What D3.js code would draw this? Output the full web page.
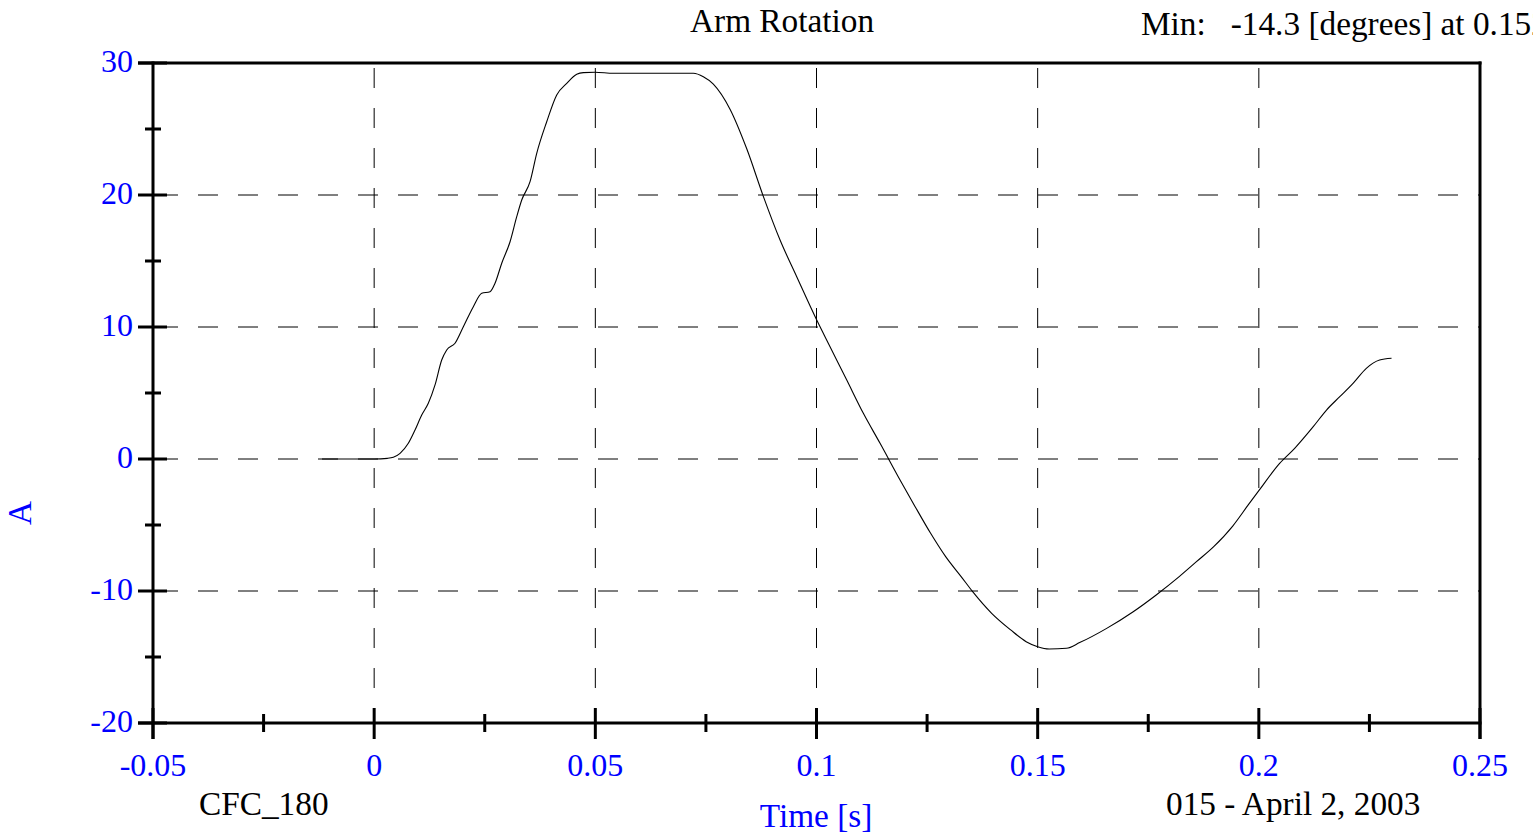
<!DOCTYPE html>
<html>
<head>
<meta charset="utf-8">
<script src="https://cdn.jsdelivr.net/npm/d3@7"></script>
<style>
html,body{margin:0;padding:0;background:#fff;overflow:hidden;}
svg{display:block;}
text{font-family:"Liberation Serif","Times New Roman",serif;}
</style>
</head>
<body>
<svg id="chart" width="1533" height="835"></svg>
<script>
// ---- data ----
const timeS = [-0.0118,-0.006,0.0,0.0030,0.00433,0.00585,0.00772,0.00924,0.01075,0.01224,0.01376,0.01527,0.0164,0.01828,0.02016,0.02242,0.02432,0.02619,0.02732,0.02884,0.03072,0.03223,0.03336,0.03524,0.03675,0.03901,0.04127,0.04354,0.0458,0.04729,0.04993,0.05407,0.065,0.07216,0.07442,0.07668,0.08045,0.08423,0.08798,0.09176,0.09553,0.10005,0.10306,0.10684,0.11059,0.11437,0.11889,0.1223,0.1258,0.1292,0.1327,0.1353,0.1396,0.1439,0.1474,0.15,0.1526,0.1565,0.1595,0.1656,0.1716,0.1768,0.1820,0.1859,0.1898,0.1941,0.1976,0.2,0.2047,0.2081,0.2123,0.2153,0.2183,0.2213,0.2243,0.2273,0.2300];
const armRotation = [0,0,0,0.05,0.13,0.43,1.19,2.20,3.33,4.22,5.61,7.50,8.26,8.77,10.02,11.54,12.55,12.67,13.31,14.83,16.46,18.36,19.62,21.01,23.16,25.55,27.58,28.46,29.14,29.27,29.30,29.22,29.22,29.22,28.96,28.40,26.50,23.50,19.90,16.59,13.81,10.53,8.51,5.98,3.46,1.19,-1.59,-3.61,-5.63,-7.40,-8.91,-10.05,-11.69,-12.95,-13.84,-14.22,-14.39,-14.34,-13.91,-12.83,-11.57,-10.30,-8.91,-7.78,-6.64,-5.08,-3.48,-2.40,-0.33,0.81,2.45,3.71,4.72,5.73,6.87,7.50,7.63];
const xMajorTicks = [-0.05,0,0.05,0.1,0.15,0.2,0.25];
const xTickLabels = ["-0.05","0","0.05","0.1","0.15","0.2","0.25"];
const xMinorTicks = [-0.025,0.025,0.075,0.125,0.175,0.225];
const yMajorTicks = [-20,-10,0,10,20,30];
const yTickLabels = ["-20","-10","0","10","20","30"];
const yMinorTicks = [-15,-5,5,15,25];
const xGrid = [0,0.05,0.1,0.15,0.2];
const yGrid = [-10,0,10,20];
const titleText = "Arm Rotation";
const minText = "Min:   -14.3 [degrees] at 0.152";
const xAxisTitle = "Time [s]";
const yAxisTitle = "A";
const leftNote = "CFC_180";
const rightNote = "015 - April 2, 2003";

// ---- layout ----
const L = 153, R = 1480, T = 63, B = 723;
const svg = d3.select("#chart");
const x = d3.scaleLinear().domain([-0.05,0.25]).range([L,R]);
const y = d3.scaleLinear().domain([-20,30]).range([B,T]);
const blue = "#0000ff";
const fs = 32, fs2 = 33.3;

// grid
const grid = svg.append("g").attr("stroke","#000").attr("stroke-width",1)
  .attr("stroke-dasharray","20,20").attr("stroke-dashoffset",35).attr("fill","none");
grid.selectAll("line.h").data(yGrid).join("line").attr("class","h")
  .attr("x1",L).attr("x2",R).attr("y1",d=>y(d)).attr("y2",d=>y(d));
grid.selectAll("line.v").data(xGrid).join("line").attr("class","v")
  .attr("x1",d=>x(d)).attr("x2",d=>x(d)).attr("y1",T).attr("y2",B);

// data line
const line = d3.line().x(d=>x(d[0])).y(d=>y(d[1])).curve(d3.curveMonotoneX);
svg.append("path").datum(timeS.map((t,i)=>[t,armRotation[i]]))
  .attr("d",line).attr("fill","none").attr("stroke","#000").attr("stroke-width",1.1);

// frame / axes
const ax = svg.append("g").attr("stroke","#000").attr("stroke-width",3).attr("fill","none");
ax.append("line").attr("x1",x(-0.05)).attr("x2",x(-0.05)).attr("y1",T-1.5).attr("y2",B+16);
ax.append("line").attr("x1",x(0.25)).attr("x2",x(0.25)).attr("y1",T-1.5).attr("y2",B+16);
ax.append("line").attr("x1",L-15).attr("x2",R+1.5).attr("y1",y(30)).attr("y2",y(30));
ax.append("line").attr("x1",L-15).attr("x2",R+1.5).attr("y1",y(-20)).attr("y2",y(-20));
// x ticks
ax.selectAll("line.xM").data(xMajorTicks).join("line").attr("class","xM")
  .attr("x1",d=>x(d)).attr("x2",d=>x(d)).attr("y1",B-15).attr("y2",B+16);
ax.selectAll("line.xm").data(xMinorTicks).join("line").attr("class","xm")
  .attr("x1",d=>x(d)).attr("x2",d=>x(d)).attr("y1",B-9).attr("y2",B+9);
// y ticks
ax.selectAll("line.yM").data(yMajorTicks).join("line").attr("class","yM")
  .attr("x1",L-15).attr("x2",L+14).attr("y1",d=>y(d)).attr("y2",d=>y(d));
ax.selectAll("line.ym").data(yMinorTicks).join("line").attr("class","ym")
  .attr("x1",L-8).attr("x2",L+8).attr("y1",d=>y(d)).attr("y2",d=>y(d));

// tick labels
svg.append("g").selectAll("text").data(xMajorTicks).join("text")
  .attr("x",d=>x(d)).attr("y",B+53).attr("text-anchor","middle")
  .attr("fill",blue).attr("font-size",fs).text((d,i)=>xTickLabels[i]);
svg.append("g").selectAll("text").data(yMajorTicks).join("text")
  .attr("x",L-20).attr("y",d=>y(d)+9).attr("text-anchor","end")
  .attr("fill",blue).attr("font-size",fs).text((d,i)=>yTickLabels[i]);

// titles
svg.append("text").attr("x",690).attr("y",32).attr("font-size",fs2).attr("fill","#000").text(titleText);
svg.append("text").attr("x",1141).attr("y",35).attr("font-size",fs2).attr("fill","#000")
  .style("white-space","pre").text(minText);
svg.append("text").attr("x",816).attr("y",827).attr("text-anchor","middle")
  .attr("font-size",fs2).attr("fill",blue).text(xAxisTitle);
svg.append("text").attr("transform","translate(31,513) rotate(-90)").attr("text-anchor","middle")
  .attr("font-size",fs2).attr("fill",blue).text(yAxisTitle);
svg.append("text").attr("x",199).attr("y",815).attr("font-size",fs2).attr("fill","#000").text(leftNote);
svg.append("text").attr("x",1166).attr("y",815).attr("font-size",fs2).attr("fill","#000").text(rightNote);
</script>
</body>
</html>
